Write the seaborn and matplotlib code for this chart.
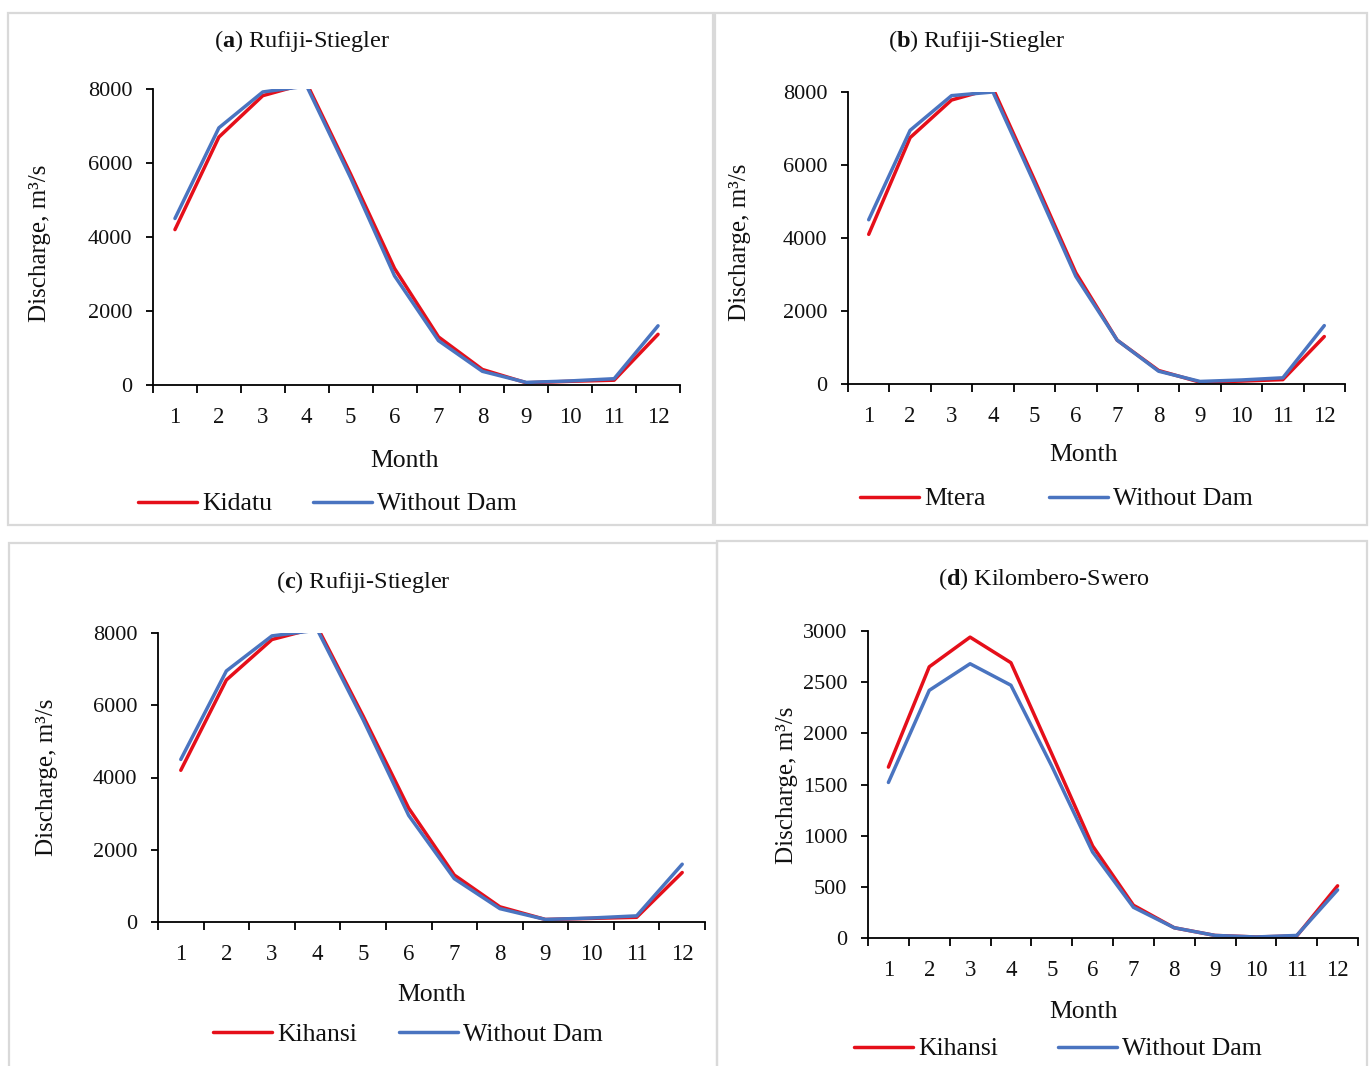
import numpy as np
import pandas as pd
import seaborn as sns
import matplotlib
matplotlib.use("Agg")
import matplotlib.pyplot as plt
from matplotlib.patches import Rectangle

# ---- data: mean monthly discharge (m3/s) ----
months = list(range(1, 13))

kidatu = [4200, 6700, 7820, 8150, 5700, 3150, 1300, 420, 60, 100, 130, 1370]
without_dam_a = [4500, 6950, 7920, 8080, 5600, 2950, 1200, 370, 70, 110, 170, 1600]

mtera = [4100, 6750, 7780, 8100, 5600, 3050, 1200, 370, 50, 80, 120, 1300]
without_dam_b = [4500, 6950, 7900, 8000, 5500, 2950, 1200, 350, 70, 110, 170, 1600]

kihansi_c = [4200, 6700, 7820, 8150, 5700, 3150, 1300, 420, 70, 100, 130, 1370]
without_dam_c = [4500, 6950, 7920, 8080, 5600, 2950, 1200, 370, 70, 110, 170, 1600]

kihansi_d = [1670, 2650, 2940, 2690, 1800, 900, 320, 100, 25, 10, 20, 510]
without_dam_d = [1520, 2420, 2680, 2470, 1680, 840, 300, 100, 25, 10, 25, 470]

y_ticks_rufiji = [0, 2000, 4000, 6000, 8000]
y_ticks_kilombero = [0, 500, 1000, 1500, 2000, 2500, 3000]

RED = "#E50F1A"
BLUE = "#4A74C0"

sns.set_theme(style="white")
plt.rcParams["font.family"] = ["Liberation Serif", "DejaVu Serif"]
plt.rcParams["mathtext.fontset"] = "custom"
plt.rcParams["mathtext.rm"] = "Liberation Serif"
plt.rcParams["mathtext.bf"] = "Liberation Serif:bold"

W, H = 1370, 1066
fig = plt.figure(figsize=(W / 100, H / 100), dpi=100)
fig.patch.set_facecolor("white")


def fx(px):
    return px / W


def fy(py):
    return 1 - py / H


# panel frames
for (l, t, r, b) in [(8, 13, 713, 525), (715, 13, 1367, 525),
                     (9, 543, 717, 1080), (717, 541, 1367, 1080)]:
    fig.add_artist(Rectangle((fx(l), fy(b)), fx(r - l), (b - t) / H,
                             transform=fig.transFigure, fill=False,
                             edgecolor="#D9D9D9", linewidth=1.6))

panels = [
    dict(box=(153, 89, 680, 385), dam="Kidatu", dam_vals=kidatu, nat=without_dam_a,
         letter="a", station="Rufiji-Stiegler", ymax=8000, yticks=y_ticks_rufiji,
         title_xy=(302, 41), ylab_xy=(40, 243), month_xy=(405, 461),
         leg_y=504, leg1_x=138, leg2_x=313),
    dict(box=(848, 92, 1345, 384), dam="Mtera", dam_vals=mtera, nat=without_dam_b,
         letter="b", station="Rufiji-Stiegler", ymax=8000, yticks=y_ticks_rufiji,
         title_xy=(977, 41), ylab_xy=(740, 242), month_xy=(1084, 455),
         leg_y=499, leg1_x=860, leg2_x=1049),
    dict(box=(158, 633, 705, 922), dam="Kihansi", dam_vals=kihansi_c, nat=without_dam_c,
         letter="c", station="Rufiji-Stiegler", ymax=8000, yticks=y_ticks_rufiji,
         title_xy=(363, 582), ylab_xy=(47, 777), month_xy=(432, 995),
         leg_y=1035, leg1_x=213, leg2_x=399),
    dict(box=(868, 631, 1358, 938), dam="Kihansi", dam_vals=kihansi_d, nat=without_dam_d,
         letter="d", station="Kilombero-Swero", ymax=3000, yticks=y_ticks_kilombero,
         title_xy=(1044, 579), ylab_xy=(787, 785), month_xy=(1084, 1012),
         leg_y=1049, leg1_x=854, leg2_x=1058),
]

for p in panels:
    l, t, r, b = p["box"]
    ax = fig.add_axes([fx(l), fy(b), (r - l) / W, (b - t) / H])
    df = pd.DataFrame({
        "Month": months * 2,
        "Discharge": p["dam_vals"] + p["nat"],
        "Series": [p["dam"]] * 12 + ["Without Dam"] * 12,
    })
    sns.lineplot(data=df, x="Month", y="Discharge", hue="Series",
                 palette={p["dam"]: RED, "Without Dam": BLUE},
                 hue_order=[p["dam"], "Without Dam"],
                 linewidth=2.5, ax=ax, legend=False)
    ax.set_xlim(0.5, 12.5)
    ax.set_ylim(0, p["ymax"])
    ax.set_xlabel("")
    ax.set_ylabel("")
    for s in ["top", "right"]:
        ax.spines[s].set_visible(False)
    for s in ["left", "bottom"]:
        ax.spines[s].set_color("black")
        ax.spines[s].set_linewidth(1.3)
    ax.set_xticks(np.arange(0.5, 13, 1.0))
    ax.set_xticklabels([])
    ax.set_xticks(months, minor=True)
    ax.set_xticklabels([str(m) for m in months], minor=True)
    ax.tick_params(axis="x", which="major", direction="out", length=6,
                   width=1.3, color="black", bottom=True)
    ax.tick_params(axis="x", which="minor", length=0, pad=16,
                   labelsize=16.5, labelcolor="#111111", bottom=True)
    ax.set_yticks(p["yticks"])
    ax.set_yticklabels([str(v) for v in p["yticks"]])
    ax.tick_params(axis="y", direction="out", length=5, width=1.3,
                   color="black", left=True, pad=10, labelsize=16,
                   labelcolor="#111111")
    ax.grid(False)

    # annotations
    fig.text(fx(p["title_xy"][0]), fy(p["title_xy"][1]),
             r"($\mathbf{" + p["letter"] + r"}$) " + p["station"],
             ha="center", va="center", fontsize=17.5, color="#111111")
    fig.text(fx(p["ylab_xy"][0]), fy(p["ylab_xy"][1]), "Discharge, m³/s",
             rotation=90, ha="center", va="center", fontsize=18, color="#111111")
    fig.text(fx(p["month_xy"][0]), fy(p["month_xy"][1]), "Month",
             ha="center", va="center", fontsize=18.5, color="#111111")

    lines = ax.get_lines()
    for line, label, x0 in [(lines[0], p["dam"], p["leg1_x"]),
                            (lines[1], "Without Dam", p["leg2_x"])]:
        fig.legend([line], [label], loc="center left",
                   bbox_to_anchor=(fx(x0), fy(p["leg_y"])),
                   bbox_transform=fig.transFigure, frameon=False,
                   borderpad=0, borderaxespad=0, handlelength=2.3,
                   handletextpad=0.2, fontsize=18.5, labelcolor="#111111")

fig.savefig("out.png", dpi=100, facecolor="white")
